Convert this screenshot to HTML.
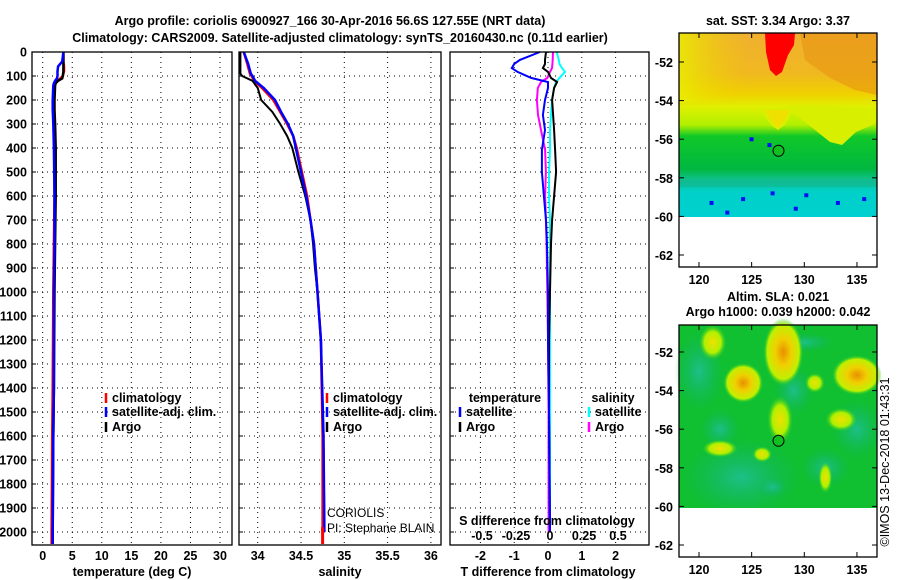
<!DOCTYPE html>
<html><head><meta charset="utf-8"><style>
body{margin:0;background:#fff}
svg{display:block;font-family:"Liberation Sans",sans-serif}
.b{font-weight:bold;font-size:12.5px}
</style></head><body>
<svg id="s" width="900" height="580" viewBox="0 0 900 580" xmlns="http://www.w3.org/2000/svg">
<defs>
<linearGradient id="sstg" x1="0" y1="0" x2="0" y2="1">
<stop offset="0" stop-color="#f0b030"/><stop offset="0.22" stop-color="#f0b820"/>
<stop offset="0.33" stop-color="#f0d000"/><stop offset="0.4" stop-color="#e0f000"/>
<stop offset="0.5" stop-color="#b0f000"/><stop offset="0.56" stop-color="#10c828"/>
<stop offset="0.74" stop-color="#00b840"/><stop offset="0.8" stop-color="#10c090"/>
<stop offset="0.86" stop-color="#00d0c8"/><stop offset="1" stop-color="#00d0d0"/>
</linearGradient>
<linearGradient id="lefty" x1="0" y1="0" x2="1" y2="0">
<stop offset="0" stop-color="#e8f000" stop-opacity="0.8"/><stop offset="0.35" stop-color="#f0d000" stop-opacity="0"/>
</linearGradient>
<radialGradient id="yb"><stop offset="0" stop-color="#e89000"/><stop offset="0.4" stop-color="#f0d000"/><stop offset="0.8" stop-color="#c0f000"/><stop offset="1" stop-color="#20c830" stop-opacity="0"/></radialGradient>
<radialGradient id="yl"><stop offset="0" stop-color="#f0e000"/><stop offset="0.6" stop-color="#b0f000"/><stop offset="1" stop-color="#20c830" stop-opacity="0"/></radialGradient>
<radialGradient id="cy"><stop offset="0" stop-color="#20c0a0"/><stop offset="1" stop-color="#10b070" stop-opacity="0"/></radialGradient>
</defs>
<text class="b" x="330" y="25" text-anchor="middle" font-size="13">Argo profile: coriolis 6900927_166 30-Apr-2016 56.6S 127.55E (NRT data)</text>
<text class="b" x="340" y="42" text-anchor="middle" font-size="13">Climatology: CARS2009. Satellite-adjusted climatology: synTS_20160430.nc (0.11d earlier)</text>
<g id="plots"></g>
<g id="maps"></g>
</svg>
<script>
// ---- data ----
const depthTicks=[0,100,200,300,400,500,600,700,800,900,1000,1100,1200,1300,1400,1500,1600,1700,1800,1900,2000];
const tempTicks=[0,5,10,15,20,25,30];
const salTicks=[34,34.5,35,35.5,36];
const salTickLabels=["34","34.5","35","35.5","36"];
const tdiffTicks=[-2,-1,0,1,2];
const sdiffTicks=[-0.5,-0.25,0,0.25,0.5];
const sdiffTickLabels=["-0.5","-0.25","0","0.25","0.5"];
const tempDepth=[0,40,60,80,100,110,120,130,140,200,240,300,400,600,800,1000,1400,1600,2000,2050];
const tempArgo=[3.5,3.5,3.5,3.5,3.4,3.3,2.6,2.2,2.1,2.0,2.0,2.1,2.2,2.2,2.1,2.0,1.9,1.8,1.7,1.7];
const tempSat=[3.5,3.3,2.6,2.5,2.5,2.4,2.1,1.9,1.8,1.7,1.7,1.8,1.9,2.0,2.0,1.9,1.9,1.8,1.7,1.7];
const tempClim=[3.5,3.5,3.6,3.6,3.4,3.0,2.5,2.2,2.0,1.9,1.9,2.0,2.0,2.0,1.9,1.8,1.7,1.6,1.5,1.5];
const salDepth=[0,50,90,100,120,150,200,250,300,350,400,500,600,700,800,900,1000,1100,1200,1600,2000];
const salArgo=[33.80,33.80,33.80,33.82,33.94,34.00,34.04,34.17,34.26,34.34,34.40,34.47,34.55,34.61,34.64,34.66,34.69,34.71,34.73,34.76,34.77];
const salSat=[33.84,33.89,33.92,33.94,33.97,34.07,34.20,34.27,34.35,34.41,34.44,34.50,34.56,34.61,34.65,34.67,34.69,34.71,34.73,34.76,34.77];
const salClim=[33.84,33.88,33.91,33.93,33.96,34.05,34.18,34.26,34.34,34.41,34.45,34.51,34.57,34.61,34.65,34.67,34.69,34.71,34.73,34.75,34.75];
const diffDepth=[0,33,50,67,83,108,125,150,200,262,325,408,500,600,700,800,1000,1200,1500,2000];
const tdiffSat=[-0.24,-0.83,-1.0,-1.07,-0.9,-0.5,0,0,-0.09,-0.15,-0.09,-0.18,-0.18,-0.12,-0.06,-0.03,0,0,0.03,0.06];
const tdiffArgo=[-0.06,-0.09,-0.09,-0.15,0,0.09,0.27,0.18,0.12,0.15,0.18,0.21,0.24,0.18,0.12,0.09,0.06,0.03,0.03,0.06];
const sdiffArgo=[0.022,0.02,0.018,0.015,0,-0.02,-0.066,-0.09,-0.096,-0.088,-0.066,-0.036,-0.03,-0.036,-0.03,-0.025,-0.02,-0.015,-0.01,-0.01];
const sdiffSat=[0.05,0.065,0.07,0.088,0.11,0.07,0.044,0.03,0.015,0.007,0,0,-0.007,-0.007,0,0,0,0,0,0];
const mapLatTicks=[-52,-54,-56,-58,-60,-62];
const mapLonTicks=[120,125,130,135];
const argoLon=127.55, argoLat=-56.6;

// ---- scales ----
const dy=d=>52+d*0.24;
const tx=v=>42.7+v*5.91;
const sx=v=>257.7+(v-34)*86.6;
const dtx=v=>548+v*33.8;
const dsx=v=>550+v*136;
const NS="http://www.w3.org/2000/svg";
function mk(tag,attrs,parent,text){const e=document.createElementNS(NS,tag);for(const k in attrs)e.setAttribute(k,attrs[k]);if(text!==undefined)e.textContent=text;parent.appendChild(e);return e;}
const P=document.getElementById('plots');
const top0=52,bot=545;
function panel(x0,x1,name){
  const g=mk('g',{},P);
  return g;
}
function vgrid(g,xs){xs.forEach(x=>{const l=mk('line',{x1:x,x2:x,y1:top0,y2:bot,stroke:'#000','stroke-dasharray':'1,4','stroke-width':1},g);});}
function hgrid(g,x0,x1){depthTicks.forEach(d=>{const l=mk('line',{x1:x0,x2:x1,y1:dy(d),y2:dy(d),stroke:'#000','stroke-dasharray':'1,4','stroke-width':1},g);
 mk('line',{x1:x0,x2:x0+4,y1:dy(d),y2:dy(d),stroke:'#000'},g);});}
function frame(g,x0,x1){const r=mk('rect',{x:x0,y:top0,width:x1-x0,height:bot-top0,fill:'none',stroke:'#000','stroke-width':1.3},g);}
function line(g,xs,ys,xf,col,w,name){const pts=xs.map((v,i)=>xf(v).toFixed(1)+','+dy(ys[i]).toFixed(1)).join(' ');const p=mk('polyline',{points:pts,fill:'none',stroke:col,'stroke-width':w},g);}
function txt(g,x,y,s,anchor,name,cls){const t=mk('text',{x:x,y:y,'text-anchor':anchor||'start',class:cls===undefined?'b':cls},g,s);return t;}
function legend(g,x,y,col,label){const l=mk('line',{x1:x,x2:x,y1:y-9,y2:y+1,stroke:col,'stroke-width':2.5},g);txt(g,x+6,y,label,'start','legend-entry');}

// panel 1 temperature
let g=panel(32,232,'temperature-panel');
vgrid(g,tempTicks.map(tx));hgrid(g,32,232);
depthTicks.forEach(d=>txt(g,27,dy(d)+4.5,String(d),'end','depth-tick-label'));
tempTicks.forEach(v=>txt(g,tx(v),560,String(v),'middle','temp-tick-label'));
txt(g,132,576,'temperature (deg C)','middle','x-axis-title-temperature');
line(g,tempClim,tempDepth,tx,'#f00',2.5,'temp-climatology');
line(g,tempArgo,tempDepth,tx,'#000',2.5,'temp-argo');
line(g,tempSat,tempDepth,tx,'#00f',2.5,'temp-satellite');
frame(g,32,232);
legend(g,106,402,'#f00','climatology');legend(g,106,416,'#00f','satellite-adj. clim.');legend(g,106,431,'#000','Argo');

// panel 2 salinity
g=panel(239,441,'salinity-panel');
vgrid(g,salTicks.map(sx));hgrid(g,239,441);
salTicks.forEach((v,i)=>txt(g,sx(v),560,salTickLabels[i],'middle','sal-tick-label'));
txt(g,340,576,'salinity','middle','x-axis-title-salinity');
line(g,salClim,salDepth,sx,'#f00',2.5,'sal-climatology');
line(g,salArgo,salDepth,sx,'#000',2,'sal-argo');
line(g,salSat,salDepth,sx,'#00f',2.5,'sal-satellite');
line(g,[34.75,34.75],[1980,2050],sx,'#f00',3,'sal-climatology-bottom');
frame(g,239,441);
legend(g,327,402,'#f00','climatology');legend(g,327,416,'#00f','satellite-adj. clim.');legend(g,327,431,'#000','Argo');
const op=txt(g,327,517,'CORIOLIS','start','operator-label','');op.setAttribute('font-size','12');
const pi=txt(g,327,532,'PI: Stephane BLAIN','start','pi-label','');pi.setAttribute('font-size','12');

// panel 3 differences
g=panel(450,649,'difference-panel');
vgrid(g,tdiffTicks.map(dtx));hgrid(g,450,649);
tdiffTicks.forEach(v=>txt(g,dtx(v),560,String(v),'middle','tdiff-tick-label'));
txt(g,548,576,'T difference from climatology','middle','x-axis-title-tdiff');
line(g,sdiffArgo,diffDepth,dsx,'#f0f',2,'sdiff-argo');
line(g,sdiffSat,diffDepth,dsx,'#0ff',2,'sdiff-satellite');
line(g,tdiffArgo,diffDepth,dtx,'#000',2,'tdiff-argo');
line(g,tdiffSat,diffDepth,dtx,'#00f',2,'tdiff-satellite');
frame(g,450,649);
txt(g,505,402,'temperature','middle','legend-title-temperature');
legend(g,460,416,'#00f','satellite');legend(g,460,431,'#000','Argo');
txt(g,613,402,'salinity','middle','legend-title-salinity');
legend(g,589,416,'#0ff','satellite');legend(g,589,431,'#f0f','Argo');
txt(g,547,525,'S difference from climatology','middle','s-axis-title');
sdiffTicks.forEach((v,i)=>txt(g,dsx(v),540,sdiffTickLabels[i],'middle','sdiff-tick-label'));

// ---- maps ----
const M=document.getElementById('maps');
const mx=lon=>699+(lon-120)*10.53;
function mapAxes(gm,y0,y1,latY,titleLines,titleY){
  const r=mk('rect',{x:679,y:y0,width:198,height:y1-y0,fill:'none',stroke:'#000','stroke-width':1.3},gm);
  mapLatTicks.forEach(v=>{const y=latY(v);mk('line',{x1:679,x2:684,y1:y,y2:y,stroke:'#000'},gm);mk('line',{x1:872,x2:877,y1:y,y2:y,stroke:'#000'},gm);txt(gm,673,y+5,String(v),'end','map-lat-label');});
  mapLonTicks.forEach(v=>{const x=mx(v);mk('line',{x1:x,x2:x,y1:y1-5,y2:y1,stroke:'#000'},gm);mk('line',{x1:x,x2:x,y1:y0,y2:y0+5,stroke:'#000'},gm);txt(gm,x,y1+17,String(v),'middle','map-lon-label');});
  titleLines.forEach((s,i)=>txt(gm,778,titleY+i*15,s,'middle','map-title'));
}
// SST map
let gm=mk('g',{},M);
const ly1=v=>62+(-52-v)*19.3;
mk('rect',{x:679,y:33,width:198,height:184,fill:'url(#sstg)'},gm);
mk('rect',{x:679,y:33,width:198,height:70,fill:'url(#lefty)'},gm);
// yellow tongue down center and right yellow region
mk('path',{d:'M760 110 L766 118 L772 126 L778 130 L786 124 L792 112 L800 118 L815 130 L830 142 L842 145 L856 132 L870 126 L877 122 L877 108 L800 105Z',fill:'#d8f000'},gm);
mk('path',{d:'M765 110 L772 122 L778 128 L785 120 L790 110Z',fill:'#f0e000'},gm);
mk('path',{d:'M800 33 L877 33 L877 95 L855 90 L830 78 L805 60Z',fill:'#e89010',opacity:0.55},gm);
mk('path',{d:'M765 33 L795 33 L794 45 L788 55 L782 72 L776 76 L770 70 L766 52Z',fill:'#f00'},gm);
mk('path',{d:'M679 180 L877 180 L877 187 L679 187Z',fill:'#10b890',opacity:0.6},gm);
[[121,-59.2],[124,-59],[126.8,-58.7],[130,-58.8],[133,-59.2],[135.5,-59],[122.5,-59.7],[129,-59.5],[126.5,-56.2],[124.8,-55.9]].forEach(p=>mk('rect',{x:mx(p[0]),y:ly1(p[1]),width:4,height:4,fill:'#0010f0'},gm));
const c1=mk('circle',{cx:mx(argoLon),cy:ly1(argoLat),r:5.5,fill:'#10c020',stroke:'#000','stroke-width':1},gm);

mapAxes(gm,33,267,ly1,['sat. SST: 3.34 Argo: 3.37'],25);
// SLA map
gm=mk('g',{},M);
const ly2=v=>352+(-52-v)*19.3;
mk('rect',{x:679,y:325,width:198,height:183,fill:'#10c030'},gm);
[[124,-58.5,60,40],[120,-53,25,40],[129,-54,20,25],[132,-58,25,20],[122,-56,20,20],[135,-56,25,30],[130,-51.5,30,10],[127,-59,15,10]].forEach(b=>mk('ellipse',{cx:mx(b[0]),cy:ly2(b[1]),rx:b[2],ry:b[3],fill:'url(#cy)',opacity:0.8},gm));
[[128,-52,20,34,'yb'],[124.2,-53.6,20,20,'yb'],[135,-53.2,25,20,'yb'],[127.7,-55.5,13,24,'yl'],[121.3,-51.5,14,18,'yl'],[131,-53.6,10,10,'yl'],[133.5,-55.5,16,12,'yl'],[132,-58.5,7,16,'yl'],[122,-57,18,9,'yl'],[126,-57.3,10,8,'yl']].forEach(b=>mk('ellipse',{cx:mx(b[0]),cy:ly2(b[1]),rx:b[2],ry:b[3],fill:'url(#'+b[4]+')'},gm));
mk('rect',{x:679,y:508,width:198,height:49,fill:'#fff'},gm);
const c2=mk('circle',{cx:mx(argoLon),cy:ly2(argoLat),r:5.5,fill:'#10c020',stroke:'#000','stroke-width':1},gm);

mapAxes(gm,325,557,ly2,['Altim. SLA: 0.021','Argo h1000: 0.039 h2000: 0.042'],301);
const cr=txt(M,0,0,'©IMOS 13-Dec-2018 01:43:31','middle','copyright-label','');
cr.setAttribute('transform','translate(889,462) rotate(-90)');cr.setAttribute('font-size','12.5');
</script>
</body></html>
